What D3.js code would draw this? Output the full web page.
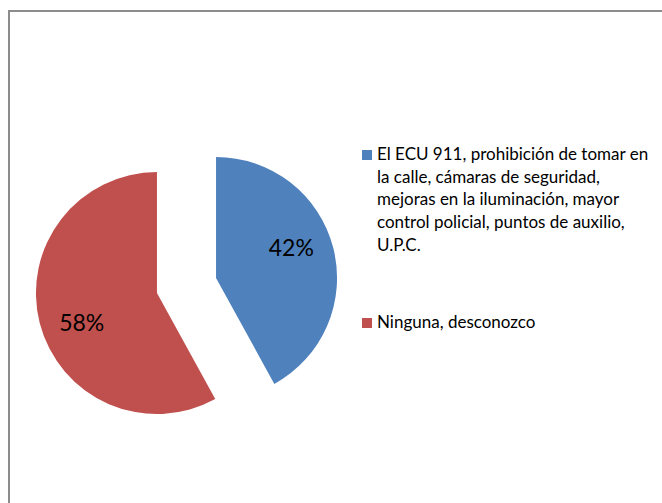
<!DOCTYPE html>
<html>
<head>
<meta charset="utf-8">
<script src="https://cdn.jsdelivr.net/npm/d3@7"></script>
<style>
  body { margin: 0; background: #fff; }
  text { font-family: Lato, "Open Sans", sans-serif; fill: #000; }
</style>
</head>
<body>
<div id="chart"></div>
<script>
const categories = ['El ECU 911, prohibición de tomar en la calle, cámaras de seguridad, mejoras en la iluminación, mayor control policial, puntos de auxilio, U.P.C.',
                    'Ninguna, desconozco'];
const values = [42, 58];
const legendLines = [
  ['El ECU 911, prohibición de tomar en', 'la calle, cámaras de seguridad,', 'mejoras en la iluminación, mayor', 'control policial, puntos de auxilio,', 'U.P.C.'],
  ['Ninguna, desconozco']
];
const colors = ['#4f81bd', '#c0504d'];

const width = 662, height = 503;
const cx = 186.5, cy = 285.5, radius = 121, explode = 30.5;

const svg = d3.select('#chart').append('svg')
  .attr('width', width)
  .attr('height', height);

// frame of the chart area
svg.append('rect')
  .attr('x', 9).attr('y', 11)
  .attr('width', 700).attr('height', 600)
  .attr('fill', 'none')
  .attr('stroke', '#8c8c8c')
  .attr('stroke-width', 2);

const pie = d3.pie().sort(null).value(d => d)(values);
const arc = d3.arc().innerRadius(0).outerRadius(radius);

const slices = svg.append('g')
  .attr('transform', 'translate(' + cx + ',' + cy + ')')
  .selectAll('g.slice')
  .data(pie)
  .enter().append('g')
  .attr('class', 'slice')
  .attr('transform', d => {
    const a = (d.startAngle + d.endAngle) / 2;
    return 'translate(' + (Math.sin(a) * explode) + ',' + (-Math.cos(a) * explode) + ')';
  });

slices.append('path')
  .attr('d', arc)
  .attr('fill', (d, i) => colors[i]);

// labels sit a bit counter-clockwise of the slice middle, like the original
slices.append('text')
  .attr('transform', d => {
    const a = (d.startAngle + d.endAngle) / 2 - 0.13, r = radius * 0.67;
    return 'translate(' + (Math.sin(a) * r) + ',' + (-Math.cos(a) * r) + ')';
  })
  .attr('text-anchor', 'middle')
  .attr('dy', '0.35em')
  .style('font-size', '23px')
  .text(d => d.data + '%');

// legend
const legendY = [160, 328];
const legend = svg.append('g').attr('class', 'legend');
legendLines.forEach((lines, i) => {
  legend.append('rect')
    .attr('x', 362).attr('y', legendY[i] - 10)
    .attr('width', 10).attr('height', 10)
    .attr('fill', colors[i]);
  const t = legend.append('text')
    .attr('x', 377).attr('y', legendY[i])
    .style('font-size', '17px');
  t.append('title').text(categories[i]);
  lines.forEach((ln, j) => {
    t.append('tspan')
      .attr('x', 377)
      .attr('y', legendY[i] + j * 22.7)
      .text(ln);
  });
});
</script>
</body>
</html>
